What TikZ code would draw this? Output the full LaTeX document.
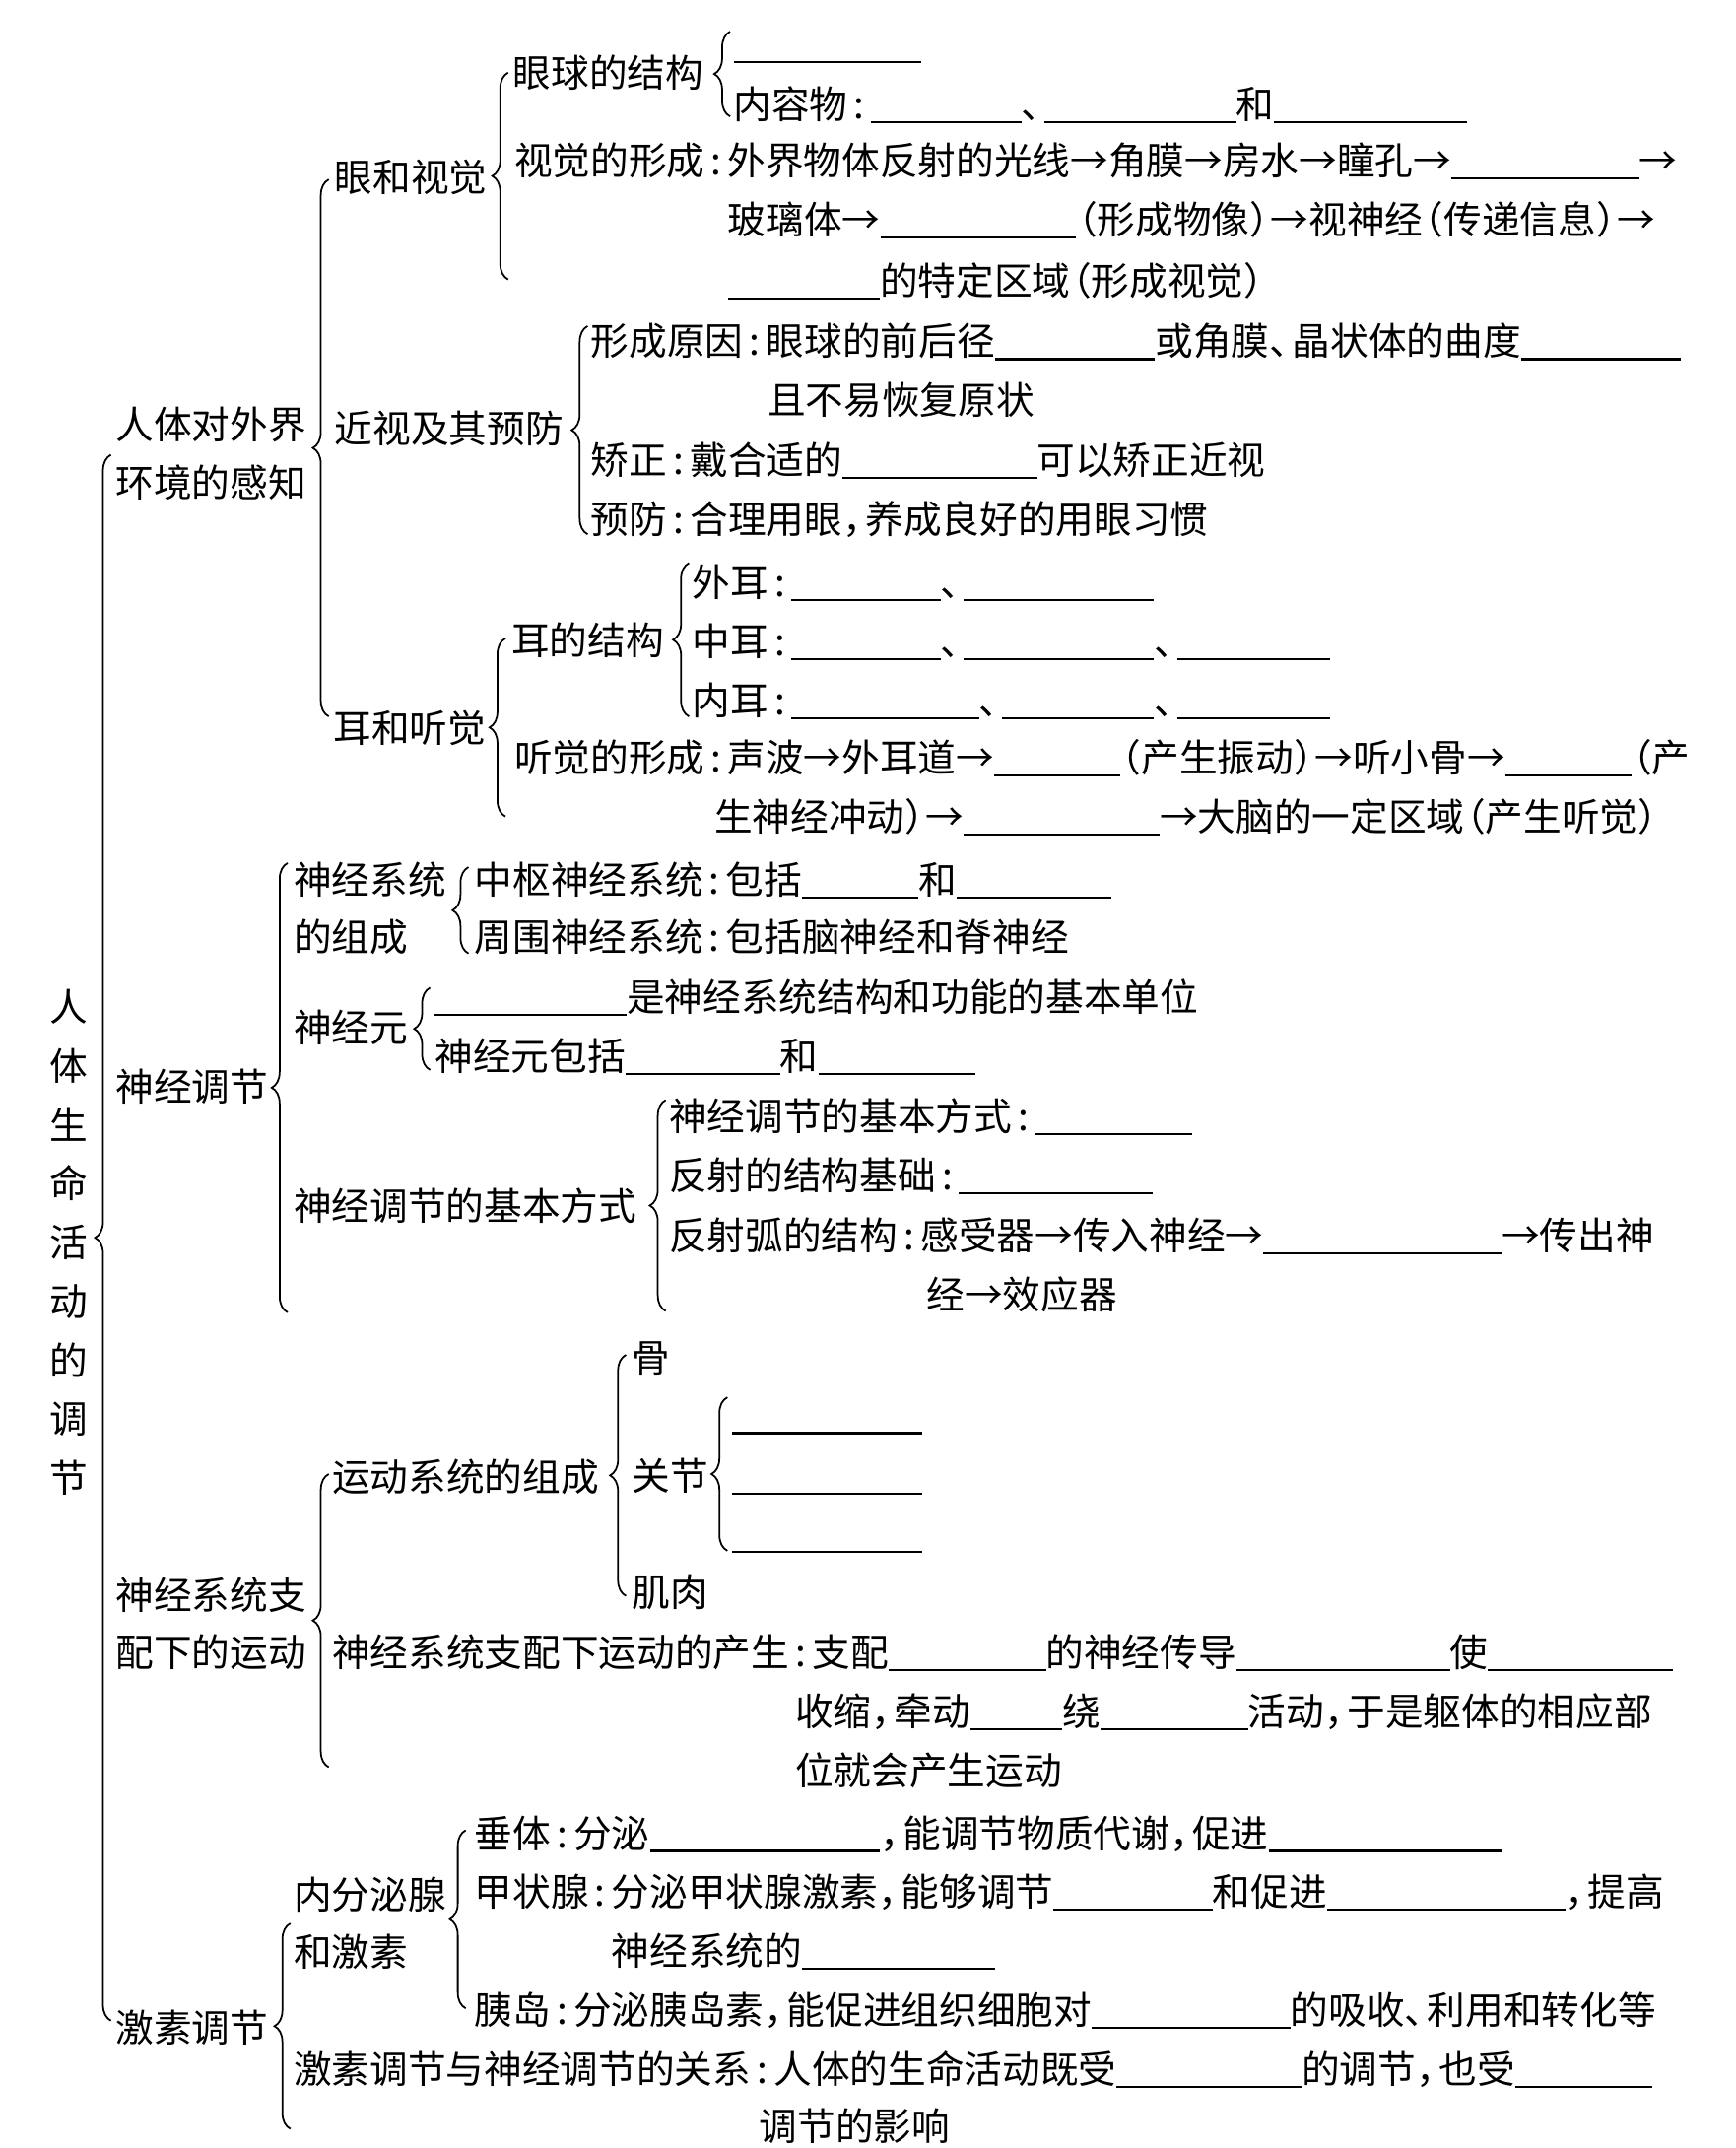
\documentclass[tikz,border=0pt]{standalone}
\usepackage{fontspec}
\setmainfont{Noto Sans CJK SC}
\usetikzlibrary{decorations.pathreplacing}
\newlength\pxu
\setlength\pxu{0.013899cm}
\newcommand\blnk[1]{\rule[-1.3pt]{#1\pxu}{0.6pt}}
\newcommand\cln{\makebox[.6em]{:}}
\newcommand\cma{\makebox[.6em][l]{，}}
\newcommand\dun{\makebox[.6em][l]{、}}
\newcommand\pL{\makebox[.55em][r]{（}}
\newcommand\pR{\makebox[.55em][l]{）}}

\begin{document}
\begin{tikzpicture}[x=0.013899cm, y=-0.013899cm,
    txt/.style = {anchor=west, inner sep=0pt, font=\fontsize{11pt}{13pt}\selectfont, text height=.88em, text depth=.12em},
    ttl/.style = {align=center, inner sep=0pt, font=\fontsize{11pt}{17pt}\selectfont},
    brc/.style = {decorate, decoration={brace, amplitude=4.6pt, aspect=0.5}, line width=0.5pt}]
    \useasboundingbox (0,0) rectangle (1267,1568);
    % title
    \node[ttl] (title) at (50,907) {人\\体\\生\\命\\活\\动\\的\\调\\节};
    \node[txt] (sense1) at (84,311) {人体对外界};
    \node[txt] (sense2) at (84,353) {环境的感知};
    \node[txt] (nerve) at (84,794) {神经调节};
    \node[txt] (move1) at (84,1165) {神经系统支};
    \node[txt] (move2) at (84,1207) {配下的运动};
    \node[txt] (horm) at (84,1481) {激素调节};
    % eye
    \node[txt] (eye) at (244,130) {眼和视觉};
    \node[txt] (myo) at (244,314) {近视及其预防};
    \node[txt] (ear) at (243,532) {耳和听觉};
    \node[txt] (eyeball) at (374,54) {眼球的结构};
    \node[txt] (ballwall) at (535,33) {\blnk{137}};
    \node[txt] (ballin) at (535,77) {内容物\cln\blnk{110}\dun\blnk{140}和\blnk{141}};
    \node[txt] (vis1) at (375,118) {视觉的形成\cln 外界物体反射的光线→角膜→房水→瞳孔→\blnk{137}→};
    \node[txt] (vis2) at (531,161) {玻璃体→\blnk{143}\pL 形成物像\pR→视神经\pL 传递信息\pR→};
    \node[txt] (vis3) at (531,206) {\blnk{111}的特定区域\pL 形成视觉\pR};
    \node[txt] (cause1) at (431,250) {形成原因\cln 眼球的前后径\blnk{117}或角膜\dun 晶状体的曲度\blnk{117}};
    \node[txt] (cause2) at (560,293) {且不易恢复原状};
    \node[txt] (fix) at (431,337) {矫正\cln 戴合适的\blnk{142}可以矫正近视};
    \node[txt] (prev) at (431,380) {预防\cln 合理用眼\cma 养成良好的用眼习惯};
    % ear
    \node[txt] (earst) at (373,468) {耳的结构};
    \node[txt] (outer) at (505,426) {外耳\cln\blnk{109}\dun\blnk{139}};
    \node[txt] (middle) at (505,469) {中耳\cln\blnk{109}\dun\blnk{139}\dun\blnk{112}};
    \node[txt] (inner) at (505,512) {内耳\cln\blnk{137}\dun\blnk{111}\dun\blnk{112}};
    \node[txt] (hear1) at (375,554) {听觉的形成\cln 声波→外耳道→\blnk{92}\pL 产生振动\pR→听小骨→\blnk{92}\pL 产};
    \node[txt] (hear2) at (521,597) {生神经冲动\pR→\blnk{143}→大脑的一定区域\pL 产生听觉\pR};
    % nerve
    \node[txt] (ns1) at (214,643) {神经系统};
    \node[txt] (ns2) at (214,685) {的组成};
    \node[txt] (cns) at (346,643) {中枢神经系统\cln 包括\blnk{85}和\blnk{113}};
    \node[txt] (pns) at (346,685) {周围神经系统\cln 包括脑神经和脊神经};
    \node[txt] (neuron) at (214,751) {神经元};
    \node[txt] (unit) at (317,729) {\blnk{140}是神经系统结构和功能的基本单位};
    \node[txt] (parts) at (317,772) {神经元包括\blnk{113}和\blnk{115}};
    \node[txt] (way) at (214,881) {神经调节的基本方式};
    \node[txt] (way1) at (488,816) {神经调节的基本方式\cln\blnk{115}};
    \node[txt] (way2) at (488,859) {反射的结构基础\cln\blnk{142}};
    \node[txt] (way3) at (488,903) {反射弧的结构\cln 感受器→传入神经→\blnk{174}→传出神};
    \node[txt] (way4) at (676,946) {经→效应器};
    % movement
    \node[txt] (sys) at (242,1079) {运动系统的组成};
    \node[txt] (bone) at (461,992) {骨};
    \node[txt] (joint) at (461,1078) {关节};
    \node[txt] (muscle) at (461,1163) {肌肉};
    \node[txt] (joint1) at (534,1034) {\blnk{139}};
    \node[txt] (joint2) at (534,1078) {\blnk{139}};
    \node[txt] (joint3) at (534,1121) {\blnk{139}};
    \node[txt] (prod1) at (242,1207) {神经系统支配下运动的产生\cln 支配\blnk{115}的神经传导\blnk{156}使\blnk{135}};
    \node[txt] (prod2) at (580,1250) {收缩\cma 牵动\blnk{67}绕\blnk{108}活动\cma 于是躯体的相应部};
    \node[txt] (prod3) at (580,1293) {位就会产生运动};
    % hormone
    \node[txt] (gland1) at (214,1384) {内分泌腺};
    \node[txt] (gland2) at (214,1426) {和激素};
    \node[txt] (pit) at (346,1339) {垂体\cln 分泌\blnk{168}\cma 能调节物质代谢\cma 促进\blnk{171}};
    \node[txt] (thy1) at (346,1382) {甲状腺\cln 分泌甲状腺激素\cma 能够调节\blnk{116}和促进\blnk{174}\cma 提高};
    \node[txt] (thy2) at (446,1425) {神经系统的\blnk{141}};
    \node[txt] (panc) at (346,1468) {胰岛\cln 分泌胰岛素\cma 能促进组织细胞对\blnk{145}的吸收\dun 利用和转化等};
    \node[txt] (rel1) at (214,1511) {激素调节与神经调节的关系\cln 人体的生命活动既受\blnk{135}的调节\cma 也受\blnk{100}};
    \node[txt] (rel2) at (554,1553) {调节的影响};
    % braces
    \draw[brc] (81,1475) -- (81,332);
    \draw[brc] (240,523) -- (240,131);
    \draw[brc] (371,204) -- (371,53);
    \draw[brc] (533,85) -- (533,23);
    \draw[brc] (429,390) -- (429,238);
    \draw[brc] (369,596) -- (369,466);
    \draw[brc] (503,523) -- (503,411);
    \draw[brc] (210,958) -- (210,630);
    \draw[brc] (342,696) -- (342,633);
    \draw[brc] (314,781) -- (314,721);
    \draw[brc] (486,957) -- (486,803);
    \draw[brc] (240,1290) -- (240,1076);
    \draw[brc] (457,1165) -- (457,989);
    \draw[brc] (531,1132) -- (531,1020);
    \draw[brc] (212,1554) -- (212,1404);
    \draw[brc] (340,1466) -- (340,1336);
\end{tikzpicture}
\end{document}
